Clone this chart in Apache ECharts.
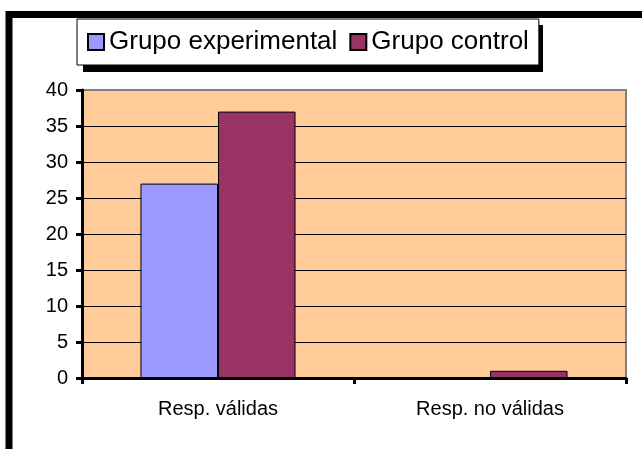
<!DOCTYPE html>
<html>
<head>
<meta charset="utf-8">
<script src="https://cdn.jsdelivr.net/npm/echarts@6/dist/echarts.min.js"></script>
<style>
  html, body { margin: 0; padding: 0; background: #fff; }
  #chart { width: 642px; height: 449px; }
</style>
</head>
<body>
<div id="chart"></div>
<script>
var categories = ["Resp. válidas", "Resp. no válidas"];
var experimental = [27, 0];
var control = [37, 1];
var seriesNames = ["Grupo experimental", "Grupo control"];

var chart = echarts.init(document.getElementById("chart"));
var font = "'Liberation Sans', Arial, sans-serif";

var option = {
  backgroundColor: "#fff",
  animation: false,
  graphic: [
    // marco negro exterior (solo se ven borde izq. y sup.)
    {
      type: "rect",
      z: 0,
      shape: { x: 9, y: 14.5, width: 700, height: 500 },
      style: { fill: "none", stroke: "#000", lineWidth: 7 }
    },
    // sombra de la leyenda
    {
      type: "rect",
      z: 0,
      shape: { x: 83, y: 25, width: 460, height: 47 },
      style: { fill: "#000" }
    }
  ],
  legend: {
    data: seriesNames,
    left: 77,
    top: 19,
    padding: [10, 10, 10, 10],
    itemGap: 12,
    itemWidth: 16,
    itemHeight: 16,
    icon: "rect",
    backgroundColor: "#fff",
    borderColor: "#000",
    borderWidth: 1,
    textStyle: { fontFamily: font, fontSize: 26, color: "#000" }
  },
  grid: {
    left: 82,
    right: 16,
    top: 90,
    bottom: 71,
    show: true,
    backgroundColor: "#FFCC99",
    borderColor: "#808080",
    borderWidth: 2
  },
  xAxis: {
    type: "category",
    data: categories,
    axisLine: { lineStyle: { color: "#000", width: 3 } },
    axisTick: { show: true, length: 6, lineStyle: { color: "#000", width: 3 } },
    axisLabel: { fontFamily: font, fontSize: 20, color: "#000", margin: 21 }
  },
  yAxis: {
    type: "value",
    min: 0,
    max: 40,
    interval: 5,
    axisLine: { show: true, lineStyle: { color: "#000", width: 3 } },
    axisTick: { show: true, length: 6, lineStyle: { color: "#000", width: 3 } },
    axisLabel: { fontFamily: font, fontSize: 20, color: "#000", margin: 14 },
    splitLine: {
      show: true,
      lineStyle: {
        color: ["#000", "#000", "#000", "#000", "#000", "#000", "#000", "#000", "#808080"],
        width: 1
      }
    }
  },
  series: [
    {
      name: seriesNames[0],
      type: "bar",
      data: experimental,
      barGap: "0%",
      barCategoryGap: "43%",
      itemStyle: { color: "#9999FF", borderColor: "#000", borderWidth: 1 }
    },
    {
      name: seriesNames[1],
      type: "bar",
      data: control,
      itemStyle: { color: "#993366", borderColor: "#000", borderWidth: 1 }
    }
  ]
};
chart.setOption(option);
</script>
</body>
</html>
